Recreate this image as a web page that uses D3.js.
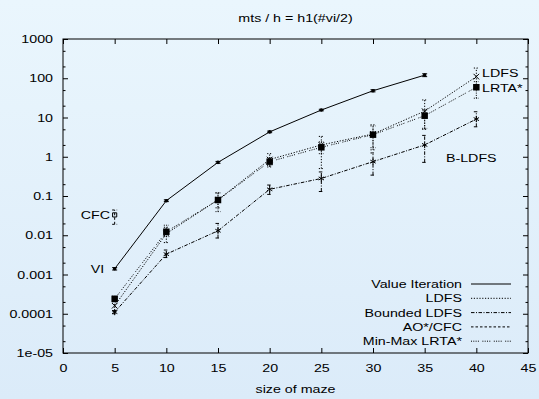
<!DOCTYPE html>
<html>
<head>
<meta charset="utf-8">
<script src="https://cdn.jsdelivr.net/npm/d3@7"></script>
<style>
  body { margin: 0; background: #e4f1fb; }
  svg { display: block; }
  text { font-family: "Liberation Sans", Arial, Helvetica, sans-serif; font-size: 11.5px; fill: #000; }
</style>
</head>
<body>
<svg id="chart" width="539" height="399"></svg>
<script>
const SVG_WIDTH = 539;
const SVG_HEIGHT = 399;
const MARGIN = { left: 63, right: 11, top: 39, bottom: 46 };
const CHART_WIDTH = SVG_WIDTH - MARGIN.left - MARGIN.right;
const CHART_HEIGHT = SVG_HEIGHT - MARGIN.top - MARGIN.bottom;
const TEXT_STRETCH = 1.24; // the reference glyphs are wider than Arial

// data
const sizes = [5, 10, 15, 20, 25, 30, 35, 40];
const xTicks = [0, 5, 10, 15, 20, 25, 30, 35, 40, 45];
const yTicks = [1e-5, 1e-4, 1e-3, 1e-2, 1e-1, 1, 10, 100, 1000];
const yTickLabels = ["1e-05", "0.0001", "0.001", "0.01", "0.1", "1", "10", "100", "1000"];

const viSizes = [5, 10, 15, 20, 25, 30, 35];
const viValues = [0.0014, 0.076, 0.72, 4.3, 15.5, 48, 120];
const viLow = [0.0013, 0.072, 0.68, 4.1, 14.8, 45, 110];
const viHigh = [0.0015, 0.080, 0.76, 4.5, 16.2, 51, 130];

const ldfsValues = [0.00016, 0.011, 0.08, 0.85, 2.0, 3.8, 14.5, 110];
const ldfsLow = [0.00012, 0.0065, 0.05, 0.55, 0.5, 1.5, 5, 67];
const ldfsHigh = [0.0002, 0.016, 0.12, 1.2, 3.3, 6.5, 28, 182];

const bldfsValues = [0.00011, 0.0033, 0.013, 0.148, 0.28, 0.75, 2.0, 9.1];
const bldfsLow = [0.0001, 0.0027, 0.0085, 0.11, 0.13, 0.34, 0.72, 5.8];
const bldfsHigh = [0.00012, 0.0042, 0.02, 0.19, 0.41, 1.25, 3.5, 14];

const cfcSizes = [5];
const cfcValues = [0.033];
const cfcLow = [0.019];
const cfcHigh = [0.044];

const lrtaValues = [0.00024, 0.0123, 0.079, 0.75, 1.74, 3.65, 11.1, 59];
const lrtaLow = [0.00021, 0.0092, 0.04, 0.6, 1.2, 1.7, 5.3, 31];
const lrtaHigh = [0.00028, 0.018, 0.12, 0.95, 2.4, 6.1, 15.5, 82];

const seriesNames = ["Value Iteration", "LDFS", "Bounded LDFS", "AO*/CFC", "Min-Max LRTA*"];

// in-plot labels, in data coordinates
const plotLabels = [
  { text: "CFC", x: 4.55, y: 0.033, anchor: "end" },
  { text: "VI", x: 4.0, y: 0.0014, anchor: "end" },
  { text: "LDFS", x: 40.55, y: 134, anchor: "start" },
  { text: "LRTA*", x: 40.55, y: 55, anchor: "start" },
  { text: "B-LDFS", x: 37.06, y: 0.93, anchor: "start" }
];

function zipSeries(xs, vs, lo, hi) {
  return xs.map((x, i) => ({ x: x, y: vs[i], lo: lo[i], hi: hi[i] }));
}

const series = [
  { name: seriesNames[0], dash: null, marker: "dot", data: zipSeries(viSizes, viValues, viLow, viHigh) },
  { name: seriesNames[1], dash: "1.2,1.6", marker: "times", data: zipSeries(sizes, ldfsValues, ldfsLow, ldfsHigh) },
  { name: seriesNames[2], dash: "3.5,1.5,1,1.5", marker: "asterisk", data: zipSeries(sizes, bldfsValues, bldfsLow, bldfsHigh) },
  { name: seriesNames[3], dash: "2.5,2", marker: "openSquare", data: zipSeries(cfcSizes, cfcValues, cfcLow, cfcHigh) },
  { name: seriesNames[4], dash: "1,1.3,1,1.3,1,1.3,1,3.5", marker: "square", data: zipSeries(sizes, lrtaValues, lrtaLow, lrtaHigh) }
];

const svg = d3.select("#chart");

// background gradient
const defs = svg.append("defs");
const grad = defs.append("linearGradient").attr("id", "bg").attr("x1", 0).attr("y1", 0).attr("x2", 0).attr("y2", 1);
grad.append("stop").attr("offset", "0%").attr("stop-color", "#eaf6fd");
grad.append("stop").attr("offset", "100%").attr("stop-color", "#dbebf9");
svg.append("rect").attr("width", SVG_WIDTH).attr("height", SVG_HEIGHT).attr("fill", "url(#bg)");

const x_scale = d3.scaleLinear().domain([0, 45]).range([MARGIN.left, MARGIN.left + CHART_WIDTH]);
const y_scale = d3.scaleLog().domain([1e-5, 1000]).range([MARGIN.top + CHART_HEIGHT, MARGIN.top]);

function stretchText(sel) {
  sel.each(function () {
    const t = d3.select(this);
    const tx = +t.attr("x") || 0;
    const ty = +t.attr("y") || 0;
    t.attr("x", 0).attr("y", 0)
      .attr("transform", `translate(${tx},${ty}) scale(${TEXT_STRETCH},1)`);
  });
}

function addText(x, y, str, anchor) {
  return svg.append("text")
    .attr("transform", `translate(${x},${y}) scale(${TEXT_STRETCH},1)`)
    .attr("text-anchor", anchor || "middle")
    .text(str);
}

// minor log ticks at 2 and 5 of each decade
const minorTicks = [];
yTicks.slice(0, -1).forEach((t) => { minorTicks.push(t * 2, t * 5); });

function styleAxis(g) {
  g.select(".domain").remove();
  g.selectAll("line").attr("stroke", "#000").attr("stroke-width", 1);
  g.selectAll("text").style("font-family", "Liberation Sans, Arial, sans-serif").style("font-size", "11.5px").attr("fill", "#000");
}

// bottom axis
const xAxisG = svg.append("g")
  .attr("transform", `translate(0,${MARGIN.top + CHART_HEIGHT})`)
  .call(d3.axisBottom(x_scale).tickValues(xTicks).tickSize(-5).tickPadding(11).tickFormat(d3.format("d")));
styleAxis(xAxisG);
stretchText(xAxisG.selectAll("text"));

// top axis
const xTopG = svg.append("g")
  .attr("transform", `translate(0,${MARGIN.top})`)
  .call(d3.axisTop(x_scale).tickValues(xTicks).tickSize(-5).tickFormat(""));
styleAxis(xTopG);

// left axis
const yAxisG = svg.append("g")
  .attr("transform", `translate(${MARGIN.left},0)`)
  .call(d3.axisLeft(y_scale).tickValues(yTicks).tickSize(-5).tickPadding(10)
    .tickFormat((d, i) => yTickLabels[i]));
styleAxis(yAxisG);
stretchText(yAxisG.selectAll("text"));

const yMinorG = svg.append("g")
  .attr("transform", `translate(${MARGIN.left},0)`)
  .call(d3.axisLeft(y_scale).tickValues(minorTicks).tickSize(-2.5).tickFormat(""));
styleAxis(yMinorG);

// right axis
const yRightG = svg.append("g")
  .attr("transform", `translate(${MARGIN.left + CHART_WIDTH},0)`)
  .call(d3.axisRight(y_scale).tickValues(yTicks).tickSize(-5).tickFormat(""));
styleAxis(yRightG);
const yRightMinorG = svg.append("g")
  .attr("transform", `translate(${MARGIN.left + CHART_WIDTH},0)`)
  .call(d3.axisRight(y_scale).tickValues(minorTicks).tickSize(-2.5).tickFormat(""));
styleAxis(yRightMinorG);

// border
svg.append("rect")
  .attr("x", MARGIN.left).attr("y", MARGIN.top)
  .attr("width", CHART_WIDTH).attr("height", CHART_HEIGHT)
  .attr("fill", "none").attr("stroke", "#000").attr("stroke-width", 1);

// titles
addText(MARGIN.left + CHART_WIDTH / 2, 22, "mts / h = h1(#vi/2)");
addText(MARGIN.left + CHART_WIDTH / 2, 393, "size of maze");

// series
const lines = svg.append("g").attr("id", "lines");
const line = d3.line().x((d) => x_scale(d.x)).y((d) => y_scale(d.y));

series.forEach((s) => {
  const g = lines.append("g");
  g.append("path")
    .datum(s.data)
    .attr("fill", "none")
    .attr("stroke", "#000")
    .attr("stroke-width", 1)
    .attr("stroke-dasharray", s.dash)
    .attr("d", line);

  // error bars
  const eb = g.selectAll(".eb").data(s.data).join("g").attr("class", "eb")
    .attr("stroke", "#000").attr("stroke-width", 1).attr("stroke-dasharray", s.dash);
  eb.append("line")
    .attr("x1", (d) => x_scale(d.x)).attr("x2", (d) => x_scale(d.x))
    .attr("y1", (d) => y_scale(d.lo)).attr("y2", (d) => y_scale(d.hi));
  eb.append("line")
    .attr("x1", (d) => x_scale(d.x) - 2.5).attr("x2", (d) => x_scale(d.x) + 2.5)
    .attr("y1", (d) => y_scale(d.lo)).attr("y2", (d) => y_scale(d.lo))
    .attr("stroke-dasharray", null);
  eb.append("line")
    .attr("x1", (d) => x_scale(d.x) - 2.5).attr("x2", (d) => x_scale(d.x) + 2.5)
    .attr("y1", (d) => y_scale(d.hi)).attr("y2", (d) => y_scale(d.hi))
    .attr("stroke-dasharray", null);

  // markers
  const m = g.selectAll(".mk").data(s.data).join("path").attr("class", "mk")
    .attr("transform", (d) => `translate(${x_scale(d.x)},${y_scale(d.y)})`);
  if (s.marker === "dot") {
    m.attr("d", d3.symbol().type(d3.symbolCircle).size(10)).attr("fill", "#000");
  } else if (s.marker === "times") {
    m.attr("d", d3.symbol().type(d3.symbolTimes).size(22)).attr("fill", "none").attr("stroke", "#000");
  } else if (s.marker === "asterisk") {
    m.attr("d", d3.symbol().type(d3.symbolAsterisk).size(26)).attr("fill", "none").attr("stroke", "#000");
  } else if (s.marker === "openSquare") {
    m.attr("d", d3.symbol().type(d3.symbolSquare2).size(22)).attr("fill", "none").attr("stroke", "#000");
  } else {
    m.attr("d", d3.symbol().type(d3.symbolSquare).size(42)).attr("fill", "#000");
  }
});

// in-plot labels
plotLabels.forEach((l) => {
  addText(x_scale(l.x), y_scale(l.y) + 4, l.text, l.anchor);
});

// legend
const LEGEND_TEXT_X = 462;
const LEGEND_LINE_X1 = 471;
const LEGEND_LINE_X2 = 511;
const LEGEND_Y0 = 284;
const LEGEND_STEP = 14.3;
series.forEach((s, i) => {
  const y = LEGEND_Y0 + i * LEGEND_STEP;
  addText(LEGEND_TEXT_X, y + 4, s.name, "end");
  svg.append("line")
    .attr("x1", LEGEND_LINE_X1).attr("x2", LEGEND_LINE_X2)
    .attr("y1", y).attr("y2", y)
    .attr("stroke", "#000").attr("stroke-width", 1)
    .attr("stroke-dasharray", s.dash);
});
</script>
</body>
</html>
